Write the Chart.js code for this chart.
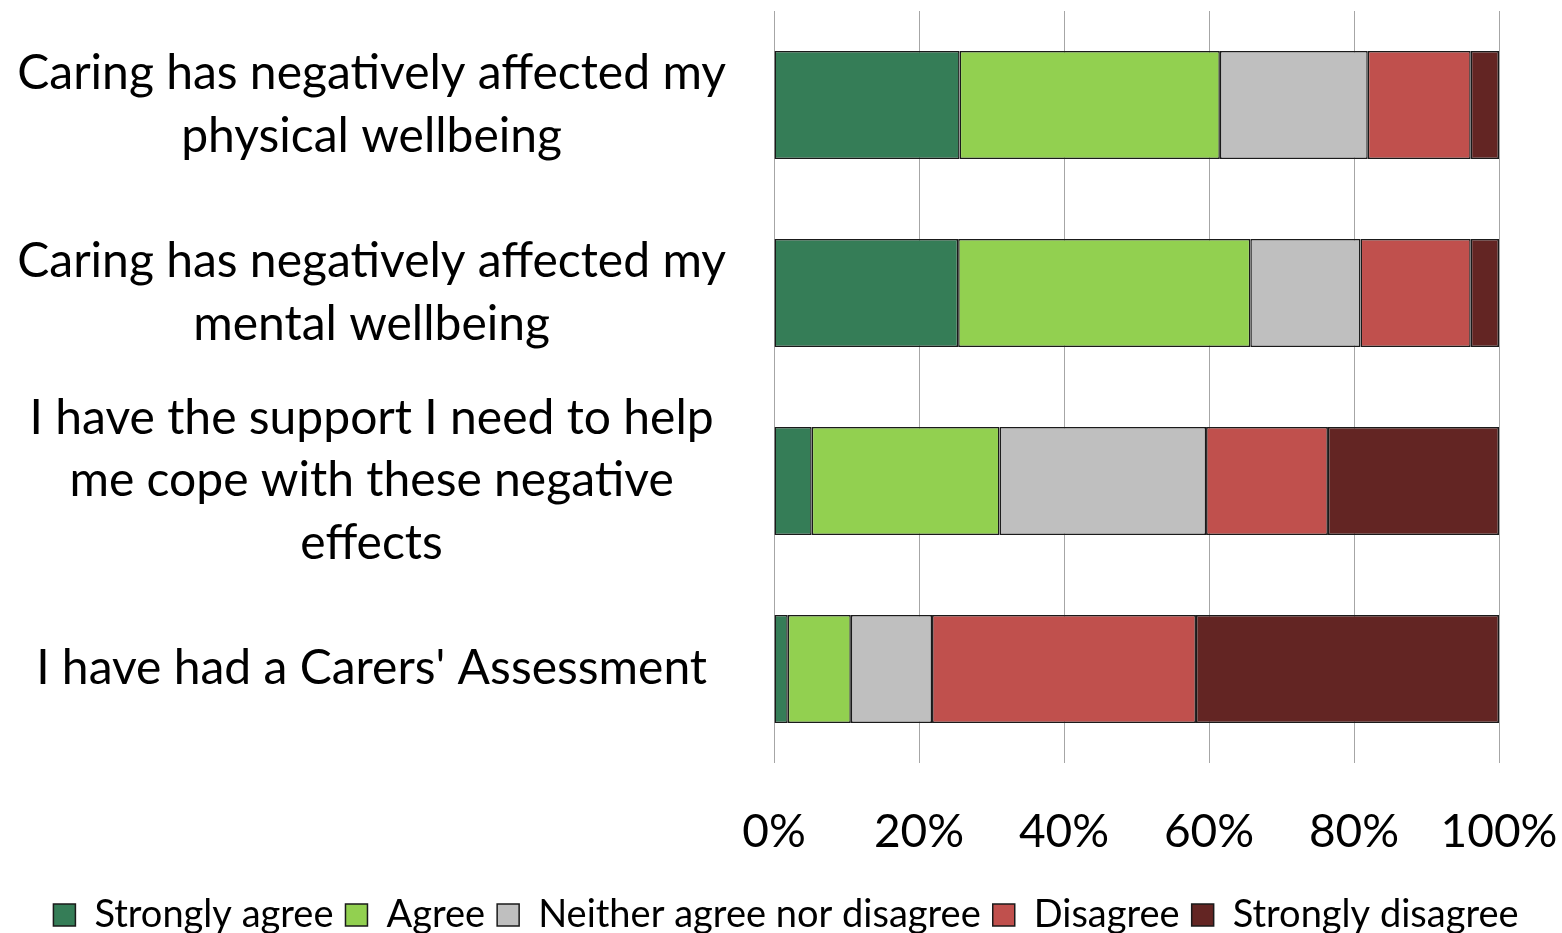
<!DOCTYPE html>
<html>
<head>
<meta charset="utf-8">
<script src="https://cdn.jsdelivr.net/npm/chart.js@4.4.0/dist/chart.umd.min.js"></script>
<style>
  html, body { margin: 0; padding: 0; background: #ffffff; overflow: hidden; }
  #wrap { width: 1562px; height: 933px; overflow: hidden; }
  canvas { display: block; }
</style>
</head>
<body>
<div id="wrap"><canvas id="surveyChart" width="1562" height="944"></canvas></div>
<script>
// Statements (y categories), each split into display lines
const statements = [
    ['Caring has negatively affected my', 'physical wellbeing'],
    ['Caring has negatively affected my', 'mental wellbeing'],
    ['I have the support I need to help', 'me cope with these negative', 'effects'],
    ["I have had a Carers' Assessment"]
];

// Percent of respondents per answer
const stronglyAgree    = [25.6, 25.4, 5.2, 1.9];
const agree            = [35.9, 40.3, 25.9, 8.7];
const neither          = [20.4, 15.2, 28.5, 11.2];
const disagree         = [14.2, 15.2, 16.8, 36.4];
const stronglyDisagree = [3.9, 3.9, 23.6, 41.8];

const answerLabels = ['Strongly agree', 'Agree', 'Neither agree nor disagree', 'Disagree', 'Strongly disagree'];
const answerColors = ['#357d57', '#92d050', '#bfbfbf', '#c0504d', '#632523'];
const xTicks = [0, 20, 40, 60, 80, 100];

const fontFamily = 'Lato, "Open Sans", sans-serif';

drawSurveyChart();

function drawSurveyChart() {
    const ctx = document.getElementById('surveyChart').getContext('2d');
    const series = [stronglyAgree, agree, neither, disagree, stronglyDisagree];

    new Chart(ctx, {
        type: 'bar',
        data: {
            labels: statements,
            datasets: series.map(function(values, i) {
                return {
                    label: answerLabels[i],
                    data: values,
                    backgroundColor: answerColors[i],
                    borderColor: '#1a1a1a',
                    borderWidth: 1.5,
                    borderSkipped: false,
                    categoryPercentage: 0.575,
                    barPercentage: 1.0
                };
            })
        },
        options: {
            indexAxis: 'y',
            responsive: false,
            animation: false,
            layout: {
                padding: { left: 10, right: 0, top: 11, bottom: 0 }
            },
            scales: {
                x: {
                    stacked: true,
                    min: 0,
                    max: 100,
                    afterBuildTicks: function(scale) {
                        scale.ticks = xTicks.map(function(v) { return { value: v }; });
                    },
                    afterFit: function(scale) {
                        scale.paddingLeft = 0;
                        scale.paddingRight = 63;
                        scale.height = 121;
                    },
                    grid: {
                        color: '#a6a6a6',
                        lineWidth: 1,
                        drawTicks: false
                    },
                    border: { display: false },
                    ticks: {
                        padding: 42,
                        color: '#000000',
                        font: { family: fontFamily, size: 46 },
                        callback: function(value) { return value + '%'; }
                    }
                },
                y: {
                    stacked: true,
                    afterFit: function(scale) {
                        scale.width = 764;
                        scale.paddingTop = 0;
                        scale.paddingBottom = 0;
                    },
                    grid: { display: false, drawTicks: false },
                    border: { display: false },
                    ticks: {
                        autoSkip: false,
                        crossAlign: 'center',
                        padding: 48,
                        color: '#000000',
                        font: { family: fontFamily, size: 48, lineHeight: 1.31 }
                    }
                }
            },
            plugins: {
                legend: {
                    position: 'bottom',
                    labels: {
                        color: '#000000',
                        boxWidth: 22,
                        boxHeight: 22,
                        padding: 12,
                        font: { family: fontFamily, size: 38 }
                    }
                },
                tooltip: { enabled: false }
            }
        }
    });
}
</script>
</body>
</html>
